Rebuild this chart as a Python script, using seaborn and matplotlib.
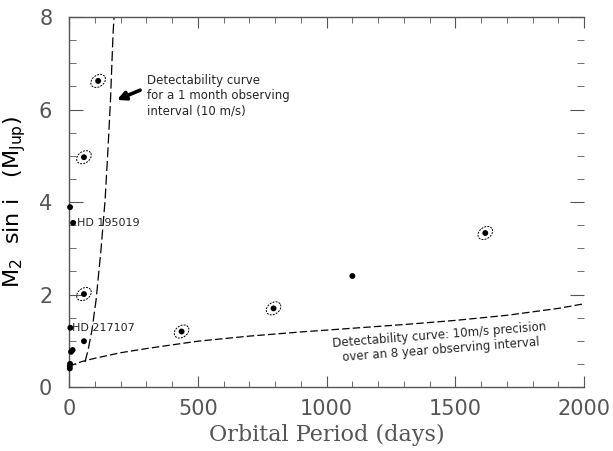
import numpy as np
import pandas as pd
import seaborn as sns
import matplotlib.pyplot as plt
from matplotlib.path import Path
from matplotlib.ticker import MultipleLocator

# planets with an orbit drawn round them
orbit_period = [113, 58, 58, 437, 794, 1616]
orbit_mass = [6.62, 4.97, 2.01, 1.20, 1.70, 3.33]

# planets drawn as bare dots
dot_period = [4, 16, 5, 58, 8, 14, 3, 4, 3, 1100]
dot_mass = [3.89, 3.55, 1.28, 0.99, 0.76, 0.80, 0.45, 0.50, 0.40, 2.40]

# detectability curve, 1 month window
month_period = [62, 74, 89, 105, 124, 140, 151, 161, 171, 176]
month_mass = [0.54, 0.80, 1.23, 1.88, 2.96, 4.04, 5.12, 6.21, 7.65, 8.10]

# detectability curve, 8 year window
long_period = [0, 50, 100, 200, 300, 500, 700, 900, 1100, 1300, 1500, 1700, 1900, 2000]
long_mass = [0.45, 0.55, 0.62, 0.74, 0.83, 0.99, 1.10, 1.19, 1.27, 1.35, 1.44, 1.55, 1.70, 1.80]

sns.set_style('ticks')
plt.rcParams['font.family'] = ['DejaVu Sans']

fig = plt.figure(figsize=(6.13, 4.51), dpi=100)
ax = fig.add_axes([0.1126, 0.142, 0.8404, 0.820])

sns.lineplot(x=month_period, y=month_mass, ax=ax, color='black', lw=0.9,
             linestyle=(0, (8, 3)), sort=False)
sns.lineplot(x=long_period, y=long_mass, ax=ax, color='black', lw=0.9,
             linestyle=(0, (6, 2.5)), sort=False)

sns.scatterplot(x=dot_period + orbit_period, y=dot_mass + orbit_mass, ax=ax,
                color='black', s=18, edgecolor='none', zorder=5, clip_on=False)

# tilted ellipse as marker for the orbits
t = np.linspace(0, 2 * np.pi, 60)
ex, ey = 0.5 * np.cos(t), 0.36 * np.sin(t)
a = np.deg2rad(35)
verts = np.column_stack([ex * np.cos(a) - ey * np.sin(a), ex * np.sin(a) + ey * np.cos(a)])
ell = Path(verts, closed=True)
ax.scatter(orbit_period, orbit_mass, marker=ell, s=110, facecolors='none',
           edgecolors='black', linewidths=0.7, linestyles=(0, (2, 1.2)), zorder=4)

ax.text(30, 3.55, 'HD 195019', fontsize=8, va='center', ha='left')
ax.text(12, 1.28, 'HD 217107', fontsize=8, va='center', ha='left')

ax.text(303, 6.78, 'Detectability curve\nfor a 1 month observing\ninterval (10 m/s)',
        fontsize=8.5, va='top', ha='left', linespacing=1.25)
ax.annotate('', xy=(186, 6.21), xytext=(276, 6.42),
            arrowprops=dict(arrowstyle='-|>,head_width=0.25,head_length=0.5',
                            lw=2.6, color='black', shrinkA=0, shrinkB=0))

ax.text(1440, 0.97, 'Detectability curve: 10m/s precision\nover an 8 year observing interval',
        fontsize=8.5, va='center', ha='center', rotation=4.5, rotation_mode='anchor',
        linespacing=1.15)

ax.set_xlim(0, 2000)
ax.set_ylim(0, 8)
ax.xaxis.set_major_locator(MultipleLocator(500))
ax.xaxis.set_minor_locator(MultipleLocator(100))
ax.yaxis.set_major_locator(MultipleLocator(2))
ax.yaxis.set_minor_locator(MultipleLocator(0.5))

ax.tick_params(which='both', direction='in', top=True, right=True, colors='#555',
               labelcolor='#555', labelsize=15)
ax.tick_params(axis='x', which='major', length=8, pad=9)
ax.tick_params(axis='x', which='minor', length=4)
ax.tick_params(axis='y', which='major', length=10, pad=12)
ax.tick_params(axis='y', which='minor', length=5)

for side in ['left', 'bottom', 'top']:
    ax.spines[side].set_color('#555')
    ax.spines[side].set_linewidth(1)
ax.spines['right'].set_visible(False)

ax.set_xlabel('Orbital Period (days)', fontsize=16, family='DejaVu Serif', color='#555', labelpad=3)
ax.set_ylabel(r'M$_2$  sin i   (M$_{\rm Jup}$)', fontsize=16, color='black', labelpad=8)

fig.savefig('out.png', dpi=100)
